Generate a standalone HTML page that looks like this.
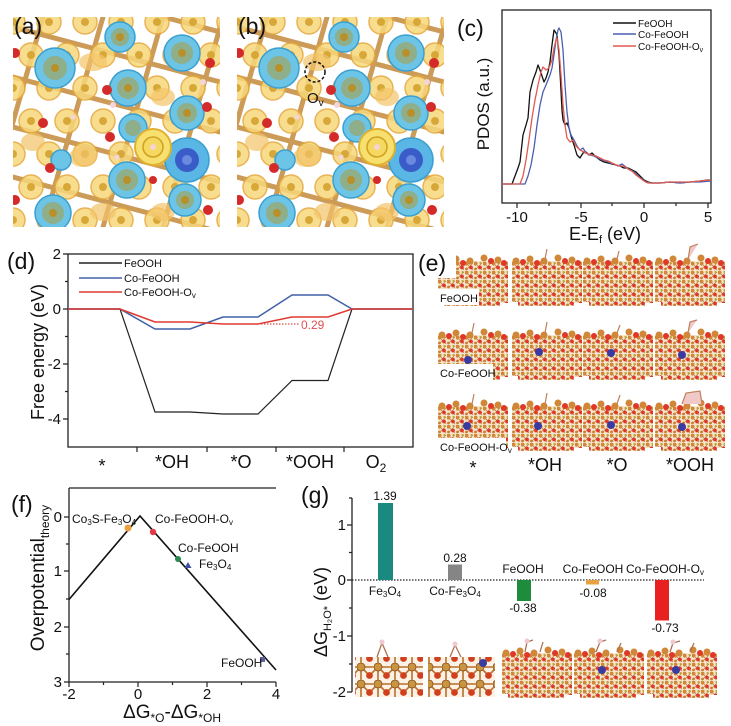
<!DOCTYPE html>
<html><head><meta charset="utf-8">
<style>
html,body{margin:0;padding:0;background:#fff;}
svg{display:block;}
text{font-family:"Liberation Sans",Arial,sans-serif;fill:#111;}
</style></head><body>
<svg width="731" height="726" viewBox="0 0 731 726" xmlns="http://www.w3.org/2000/svg">
<defs>
  <pattern id="pY" x="0" y="0" width="36" height="66" patternUnits="userSpaceOnUse">
    <g fill="#f7d77a" stroke="#e6a636" stroke-width="1.5" opacity="0.85">
      <circle cx="0" cy="5" r="12"/><circle cx="36" cy="5" r="12"/>
      <circle cx="0" cy="71" r="12"/><circle cx="36" cy="71" r="12"/>
      <circle cx="18" cy="38" r="12"/>
    </g>
    <g fill="#d7a838">
      <circle cx="0" cy="5" r="4"/><circle cx="36" cy="5" r="4"/>
      <circle cx="0" cy="71" r="4"/><circle cx="36" cy="71" r="4"/>
      <circle cx="18" cy="38" r="4"/>
    </g>
  </pattern>
  <pattern id="pS" x="0" y="0" width="9" height="9" patternUnits="userSpaceOnUse">
    <rect width="9" height="9" fill="#f6e4cc"/>
    <path d="M1 1 L8 8 M8 1 L1 8" stroke="#b87838" stroke-width="0.7"/>
    <circle cx="1.5" cy="1.5" r="2.1" fill="#d08838"/>
    <circle cx="6" cy="5.5" r="1.9" fill="#e03828"/>
    <circle cx="6.5" cy="1" r="1.1" fill="#b8a838"/>
    <circle cx="1.5" cy="7" r="1.4" fill="#c88030"/>
  </pattern>
  <pattern id="pL" x="0" y="0" width="17" height="17" patternUnits="userSpaceOnUse">
    <rect width="17" height="17" fill="#fbf1e4"/>
    <path d="M4 4 L12.5 12.5 M12.5 12.5 L21 4 M4 4 L-4.5 12.5 M4 4 L4 21 M4 4 L21 4" stroke="#b8702a" stroke-width="1.6"/>
    <circle cx="4" cy="4" r="4" fill="#c9963f" stroke="#8a5020" stroke-width="0.8"/>
    <circle cx="12.5" cy="12.5" r="3.4" fill="#d0401e"/>
  </pattern>
  <clipPath id="cA"><rect x="0" y="0" width="207" height="210"/></clipPath>
  <g id="cd">
    <g clip-path="url(#cA)">
      <rect width="207" height="210" fill="#fff"/>
      <g stroke="#c48a3c" stroke-width="5" stroke-linecap="round" opacity="0.85">
        <path d="M-30 210 L30 0 M30 210 L90 0 M90 210 L150 0 M150 210 L210 0 M210 210 L270 0"/>
        <path d="M0 -40 L207 15 M0 10 L207 65 M0 60 L207 115 M0 110 L207 165 M0 160 L207 215"/>
      </g>
      <rect width="207" height="210" fill="url(#pY)"/>
      <g fill="#f3c468" opacity="0.7">
        <ellipse cx="80" cy="45" rx="14" ry="9"/><ellipse cx="150" cy="80" rx="12" ry="9"/>
        <ellipse cx="70" cy="140" rx="14" ry="10"/><ellipse cx="20" cy="125" rx="12" ry="9"/>
        <ellipse cx="150" cy="195" rx="12" ry="9"/><ellipse cx="90" cy="195" rx="13" ry="9"/>
      </g>
      <g stroke="#3aa0d0" stroke-width="1.5">
        <circle cx="42" cy="51" r="20" fill="#6cc4e6"/>
        <circle cx="107" cy="20" r="15" fill="#6cc4e6"/>
        <circle cx="115" cy="71" r="18" fill="#6cc4e6"/>
        <circle cx="169" cy="36" r="18" fill="#6cc4e6"/>
        <circle cx="174" cy="96" r="17" fill="#6cc4e6"/>
        <circle cx="120" cy="111" r="14" fill="#6cc4e6"/>
        <circle cx="114" cy="163" r="18" fill="#6cc4e6"/>
        <circle cx="174" cy="143" r="22" fill="#5ab6e4"/>
        <circle cx="172" cy="183" r="16" fill="#6cc4e6"/>
        <circle cx="40" cy="196" r="18" fill="#6cc4e6"/>
        <circle cx="48" cy="143" r="10" fill="#6cc4e6"/>
      </g>
      <g fill="#8fae8a">
        <circle cx="42" cy="51" r="12"/><circle cx="107" cy="20" r="9"/><circle cx="115" cy="71" r="11"/>
        <circle cx="169" cy="36" r="11"/><circle cx="174" cy="96" r="10"/><circle cx="120" cy="111" r="8"/>
        <circle cx="114" cy="163" r="11"/><circle cx="172" cy="183" r="9"/><circle cx="40" cy="196" r="11"/>
      </g>
      <circle cx="174" cy="143" r="12" fill="#3a5cc8"/>
      <circle cx="174" cy="143" r="5" fill="#6a8ae0"/>
      <g fill="#b8902a">
        <circle cx="42" cy="51" r="4"/><circle cx="107" cy="20" r="4"/><circle cx="115" cy="71" r="4"/>
        <circle cx="169" cy="36" r="4"/><circle cx="174" cy="96" r="4"/><circle cx="114" cy="163" r="4"/>
        <circle cx="172" cy="183" r="4"/><circle cx="40" cy="196" r="4"/>
      </g>
      <circle cx="140" cy="130" r="18" fill="#f8e070" stroke="#e0b030" stroke-width="2"/>
      <circle cx="140" cy="130" r="10" fill="#f4d860" stroke="#d0a020" stroke-width="1.5"/>
      <circle cx="140" cy="130" r="3" fill="#f4d4d4"/>
      <g fill="#d42a2a">
        <circle cx="94" cy="73" r="5"/><circle cx="97" cy="120" r="5"/><circle cx="30" cy="106" r="5"/>
        <circle cx="37" cy="151" r="5"/><circle cx="197" cy="46" r="5"/><circle cx="195" cy="193" r="5"/>
        <circle cx="2" cy="36" r="5"/><circle cx="194" cy="90" r="5"/><circle cx="2" cy="183" r="5"/>
        <circle cx="140" cy="163" r="4"/>
      </g>
      <g fill="#f2d6dc">
        <circle cx="100" cy="88" r="3"/><circle cx="190" cy="65" r="3"/><circle cx="104" cy="140" r="2.5"/><circle cx="60" cy="100" r="2.5"/>
      </g>
    </g>
  </g>
  <g id="slab">
    <rect x="0" y="8" width="70" height="45" fill="url(#pS)"/>
    <g fill="#d08838"><circle cx="4" cy="8" r="3.5"/><circle cx="18" cy="6" r="3.5"/><circle cx="32" cy="8" r="3.5"/><circle cx="46" cy="5" r="3.5"/><circle cx="60" cy="7" r="3.5"/></g>
    <g fill="#e03828"><circle cx="11" cy="9" r="3"/><circle cx="25" cy="10" r="3"/><circle cx="53" cy="8" r="3"/><circle cx="66" cy="10" r="3"/></g>
    <g fill="#fff"><rect x="0" y="49" width="6" height="4"/><rect x="62" y="50" width="8" height="3"/></g>
  </g>
</defs>

<!-- (a) -->
<use href="#cd" x="13" y="17"/>
<text x="14" y="34" font-size="23">(a)</text>
<!-- (b) -->
<use href="#cd" x="237" y="17"/>
<circle cx="315" cy="72" r="10" fill="none" stroke="#111" stroke-width="1.5" stroke-dasharray="3,2"/>
<text x="307" y="103" font-size="15">O<tspan font-size="10" dy="3">v</tspan></text>
<text x="238" y="34" font-size="23">(b)</text>

<!-- (c) -->
<text x="457" y="36" font-size="23">(c)</text>
<rect x="502" y="10" width="209" height="193" fill="none" stroke="#222" stroke-width="1.3"/>
<g stroke="#222" stroke-width="1.2">
  <path d="M517 203v5 M581 203v5 M644 203v5 M708 203v5 M549 203v3 M612 203v3 M676 203v3"/>
</g>
<g font-size="15" text-anchor="middle">
  <text x="517" y="222">-10</text><text x="581" y="222">-5</text><text x="644" y="222">0</text><text x="708" y="222">5</text>
</g>
<text x="605" y="240" font-size="18" text-anchor="middle">E-E<tspan font-size="11" dy="3">f</tspan><tspan dy="-3"> (eV)</tspan></text>
<text transform="translate(489,104) rotate(-90)" font-size="17" text-anchor="middle">PDOS (a.u.)</text>
<g fill="none" stroke-width="1.3" stroke-linejoin="round">
<polyline stroke="#111" points="502,184 512,184 515,176 518,168 520,162 523,135 526,125 528,118 530,92 533,80 536,72 538,65 540,70 542,76 544,82 546,78 548,72 550,62 552,45 554,30 556,33 557,35 559,55 560,72 562,110 563,120 565,125 567,123 569,128 571,136 574,145 577,155 580,158 583,153 586,152 589,155 592,153 596,157 600,160 604,162 608,163 612,164 616,165 620,166 624,168 628,168 632,170 636,172 640,176 644,180 648,182 652,183 660,183 670,182 680,183 690,182 700,181 708,180 711,180"/>
<polyline stroke="#4a5fb0" points="502,184 525,184 528,176 531,165 534,148 537,125 540,105 543,92 546,85 548,80 550,75 552,68 554,55 556,40 558,30 559,28 561,32 563,50 565,85 567,112 569,128 571,135 574,140 577,146 580,150 583,148 586,153 590,155 594,156 598,158 602,160 606,161 610,163 614,164 618,166 622,164 626,167 630,170 634,172 638,176 642,179 646,182 650,183 660,183 670,182 680,183 690,182 700,182 711,181"/>
<polyline stroke="#e05a50" points="502,184 520,184 523,176 526,160 529,140 532,118 535,100 538,85 541,72 543,67 546,70 549,68 552,60 554,48 556,40 557,38 559,50 561,75 563,105 565,125 567,138 570,142 573,140 576,146 580,150 584,152 588,154 592,155 596,156 600,158 604,160 608,161 612,163 616,165 620,166 624,166 628,169 632,171 636,175 640,178 644,181 648,183 660,183 670,182 680,182 690,182 700,181 711,180"/>
</g>
<g stroke-width="1.5">
  <line x1="613" y1="23" x2="636" y2="23" stroke="#111"/>
  <line x1="613" y1="34" x2="636" y2="34" stroke="#4a5fb0"/>
  <line x1="613" y1="46" x2="636" y2="46" stroke="#e05a50"/>
</g>
<g font-size="10">
  <text x="638" y="27">FeOOH</text><text x="638" y="38">Co-FeOOH</text>
  <text x="638" y="50">Co-FeOOH-O<tspan font-size="7" dy="2">v</tspan></text>
</g>

<!-- (d) -->
<text x="7" y="269" font-size="23">(d)</text>
<rect x="68" y="254" width="345" height="193" fill="none" stroke="#222" stroke-width="1.3"/>
<g stroke="#222" stroke-width="1.2">
  <path d="M68 254h-5 M68 309h-5 M68 364h-5 M68 419h-5 M68 281.5h-3 M68 336.5h-3 M68 391.5h-3"/>
  <path d="M137 447v5 M207 447v5 M276 447v5 M344 447v5"/>
</g>
<g font-size="15" text-anchor="end">
  <text x="61" y="259">2</text><text x="61" y="314">0</text><text x="61" y="369">-2</text><text x="61" y="424">-4</text>
</g>
<text transform="translate(44,352) rotate(-90)" font-size="18" text-anchor="middle">Free energy (eV)</text>
<g font-size="18" text-anchor="middle">
  <text x="102" y="472">*</text><text x="172" y="468">*OH</text><text x="241" y="468">*O</text><text x="310" y="468">*OOH</text>
  <text x="376" y="468">O<tspan font-size="12" dy="4">2</tspan></text>
</g>
<g fill="none" stroke-width="1.2">
  <polyline stroke="#222" points="68,309 120,309 155,412 190,412 223,414 258,414 292,380.5 328,380.5 352,309 413,309"/>
  <polyline stroke="#4060a8" stroke-width="1.5" points="68,309 120,309 155,329 190,329 223,317 258,317 292,295 328,295 352,309 413,309"/>
  <polyline stroke="#e03a30" stroke-width="1.6" points="68,309 120,309 155,322 190,322 223,324 258,324 292,317 328,317 352,309 413,309"/>
  <line x1="258" y1="324" x2="300" y2="324" stroke="#e05050" stroke-dasharray="1.5,1.5"/>
</g>
<text x="301" y="329" font-size="12" style="fill:#e05050">0.29</text>
<g stroke-width="1.5">
  <line x1="79" y1="263" x2="122" y2="263" stroke="#222"/>
  <line x1="79" y1="278" x2="122" y2="278" stroke="#4060a8"/>
  <line x1="79" y1="292" x2="122" y2="292" stroke="#e03a30"/>
</g>
<g font-size="11">
  <text x="124" y="267">FeOOH</text><text x="124" y="282">Co-FeOOH</text>
  <text x="124" y="296">Co-FeOOH-O<tspan font-size="8" dy="2">v</tspan></text>
</g>

<!-- (e) -->
<use href="#slab" x="438" y="253"/><use href="#slab" x="512" y="253"/><use href="#slab" x="583" y="253"/><use href="#slab" x="655" y="253"/>
<use href="#slab" x="438" y="327"/><use href="#slab" x="512" y="327"/><use href="#slab" x="583" y="327"/><use href="#slab" x="655" y="327"/>
<use href="#slab" x="438" y="398"/><use href="#slab" x="512" y="398"/><use href="#slab" x="583" y="398"/><use href="#slab" x="655" y="398"/>
<rect x="416" y="248" width="40" height="30" fill="#fff"/>
<text x="418" y="271" font-size="23">(e)</text>
<g stroke="#c08060" stroke-width="1.2" fill="#f0c8c8">
  <path d="M545 259 L547 249 M617 259 L619 251 M688 260 L690 247 L698 244"/>
  <path d="M472 333 L474 323 M545 333 L547 322 M617 333 L620 325 M688 333 L690 322 L697 320"/>
  <path d="M472 404 L474 394 M545 404 L547 393 M617 404 L620 395 M682 404 L686 393 L700 391 L702 404"/>
</g>
<g fill="#3a3aa0">
  <circle cx="468" cy="360" r="4"/><circle cx="539" cy="352" r="4"/><circle cx="611" cy="353" r="4"/><circle cx="682" cy="355" r="4"/>
  <circle cx="467" cy="426" r="4"/><circle cx="538" cy="426" r="4"/><circle cx="611" cy="425" r="4"/><circle cx="682" cy="427" r="4"/>
</g>
<rect x="438" y="289" width="41" height="16" fill="#fff"/>
<rect x="438" y="364" width="55" height="16" fill="#fff"/>
<rect x="438" y="438" width="68" height="17" fill="#fff"/>
<g font-size="11" style="fill:#333">
  <text x="440" y="302">FeOOH</text><text x="440" y="377">Co-FeOOH</text>
  <text x="440" y="451">Co-FeOOH-O<tspan font-size="8" dy="2">v</tspan></text>
</g>
<g font-size="18" text-anchor="middle">
  <text x="473" y="474">*</text><text x="545" y="471">*OH</text><text x="617" y="471">*O</text><text x="690" y="471">*OOH</text>
</g>

<!-- (f) -->
<text x="11" y="512" font-size="23">(f)</text>
<path d="M69 488 V682 H276 M69 488 H276" fill="none" stroke="#222" stroke-width="1.3"/>
<g stroke="#222" stroke-width="1.2">
  <path d="M69 517h-5 M69 571h-5 M69 627h-5 M69 682h-5 M69 544h-3 M69 599h-3 M69 654h-3"/>
  <path d="M69 682v5 M138 682v5 M207 682v5 M276 682v5 M103.5 682v3 M172.5 682v3 M241.5 682v3"/>
</g>
<g font-size="15" text-anchor="end">
  <text x="62" y="522">0</text><text x="62" y="576">1</text><text x="62" y="632">2</text><text x="62" y="687">3</text>
</g>
<g font-size="15" text-anchor="middle">
  <text x="69" y="699">-2</text><text x="138" y="699">0</text><text x="207" y="699">2</text><text x="276" y="699">4</text>
</g>
<text x="172" y="718" font-size="19" text-anchor="middle">ΔG<tspan font-size="12" dy="4">*O</tspan><tspan dy="-4">-ΔG</tspan><tspan font-size="12" dy="4">*OH</tspan></text>
<text transform="translate(44,578) rotate(-90)" font-size="19" text-anchor="middle">Overpotential<tspan font-size="12" dy="5">theory</tspan></text>
<polyline points="69,599.5 140,516 276,670" fill="none" stroke="#111" stroke-width="1.6"/>
<circle cx="128" cy="528" r="3.5" fill="#e8a040"/>
<circle cx="153" cy="532" r="3.2" fill="#e03a4a"/>
<circle cx="178" cy="559" r="3" fill="#2a8a50"/>
<path d="M188 562 L191.5 568 L184.5 568 Z" fill="#4050a0"/>
<rect x="260" y="657" width="5" height="5" fill="#6060a0"/>
<g font-size="12">
  <text x="72" y="523">Co<tspan font-size="8" dy="2">3</tspan><tspan dy="-2">S-Fe</tspan><tspan font-size="8" dy="2">3</tspan><tspan dy="-2">O</tspan><tspan font-size="8" dy="2">4</tspan></text>
  <text x="155" y="523">Co-FeOOH-O<tspan font-size="8" dy="2">v</tspan></text>
  <text x="178" y="552">Co-FeOOH</text>
  <text x="199" y="568">Fe<tspan font-size="8" dy="2">3</tspan><tspan dy="-2">O</tspan><tspan font-size="8" dy="2">4</tspan></text>
  <text x="221" y="667">FeOOH</text>
</g>

<!-- (g) -->
<text x="301" y="503" font-size="23">(g)</text>
<line x1="352" y1="498" x2="352" y2="692" stroke="#222" stroke-width="1.3"/>
<g stroke="#222" stroke-width="1.2">
  <path d="M352 525h-5 M352 580h-5 M352 636h-5 M352 692h-5 M352 552.5h-3 M352 608h-3 M352 664h-3 M352 498h-3"/>
</g>
<g font-size="15" text-anchor="end">
  <text x="346" y="530">1</text><text x="346" y="585">0</text><text x="346" y="641">-1</text><text x="346" y="697">-2</text>
</g>
<text transform="translate(327,612) rotate(-90)" font-size="18" text-anchor="middle">ΔG<tspan font-size="11" dy="4">H₂O*</tspan><tspan dy="-4"> (eV)</tspan></text>
<line x1="352" y1="580" x2="704" y2="580" stroke="#222" stroke-width="1.2" stroke-dasharray="1.5,1.5"/>
<rect x="378" y="503" width="15" height="77" fill="#1a8a80"/>
<rect x="448" y="564.5" width="14" height="15.5" fill="#858585"/>
<rect x="517" y="580" width="14" height="21" fill="#1e8c3c"/>
<rect x="586" y="580" width="13" height="4.5" fill="#e8a040"/>
<rect x="655" y="580" width="14" height="40.5" fill="#e82020"/>
<g font-size="12" text-anchor="middle">
  <text x="385" y="500">1.39</text>
  <text x="385" y="595">Fe<tspan font-size="8" dy="2">3</tspan><tspan dy="-2">O</tspan><tspan font-size="8" dy="2">4</tspan></text>
  <text x="455" y="562">0.28</text>
  <text x="455" y="595">Co-Fe<tspan font-size="8" dy="2">3</tspan><tspan dy="-2">O</tspan><tspan font-size="8" dy="2">4</tspan></text>
  <text x="523" y="573">FeOOH</text>
  <text x="523" y="612">-0.38</text>
  <text x="593" y="573">Co-FeOOH</text>
  <text x="593" y="597">-0.08</text>
  <text x="665" y="573">Co-FeOOH-O<tspan font-size="8" dy="2">v</tspan></text>
  <text x="665" y="632">-0.73</text>
</g>
<rect x="355" y="657" width="68" height="40" fill="url(#pL)"/>
<rect x="428" y="657" width="67" height="40" fill="url(#pL)"/>
<circle cx="483" cy="663" r="4" fill="#3a3aa0"/>
<use href="#slab" x="502" y="645"/>
<use href="#slab" x="574" y="645"/>
<use href="#slab" x="647" y="645"/>
<g stroke="#b07050" stroke-width="1.3" fill="none">
  <path d="M377 657 L382 643 L388 657 M450 657 L455 645 L461 657"/>
  <path d="M525 652 L527 642 L533 640 M540 652 L543 642 M596 652 L600 642 L606 640 M617 652 L621 643 M670 652 L673 643 L680 641 M690 652 L694 643"/>
</g>
<g fill="#f0c8d0">
  <circle cx="382" cy="642" r="2.5"/><circle cx="455" cy="644" r="2.5"/><circle cx="527" cy="641" r="2.5"/><circle cx="600" cy="641" r="2.5"/><circle cx="673" cy="642" r="2.5"/>
</g>
<g fill="#3a3aa0"><circle cx="602" cy="670" r="4"/><circle cx="676" cy="670" r="4"/></g>
</svg>
</body></html>
